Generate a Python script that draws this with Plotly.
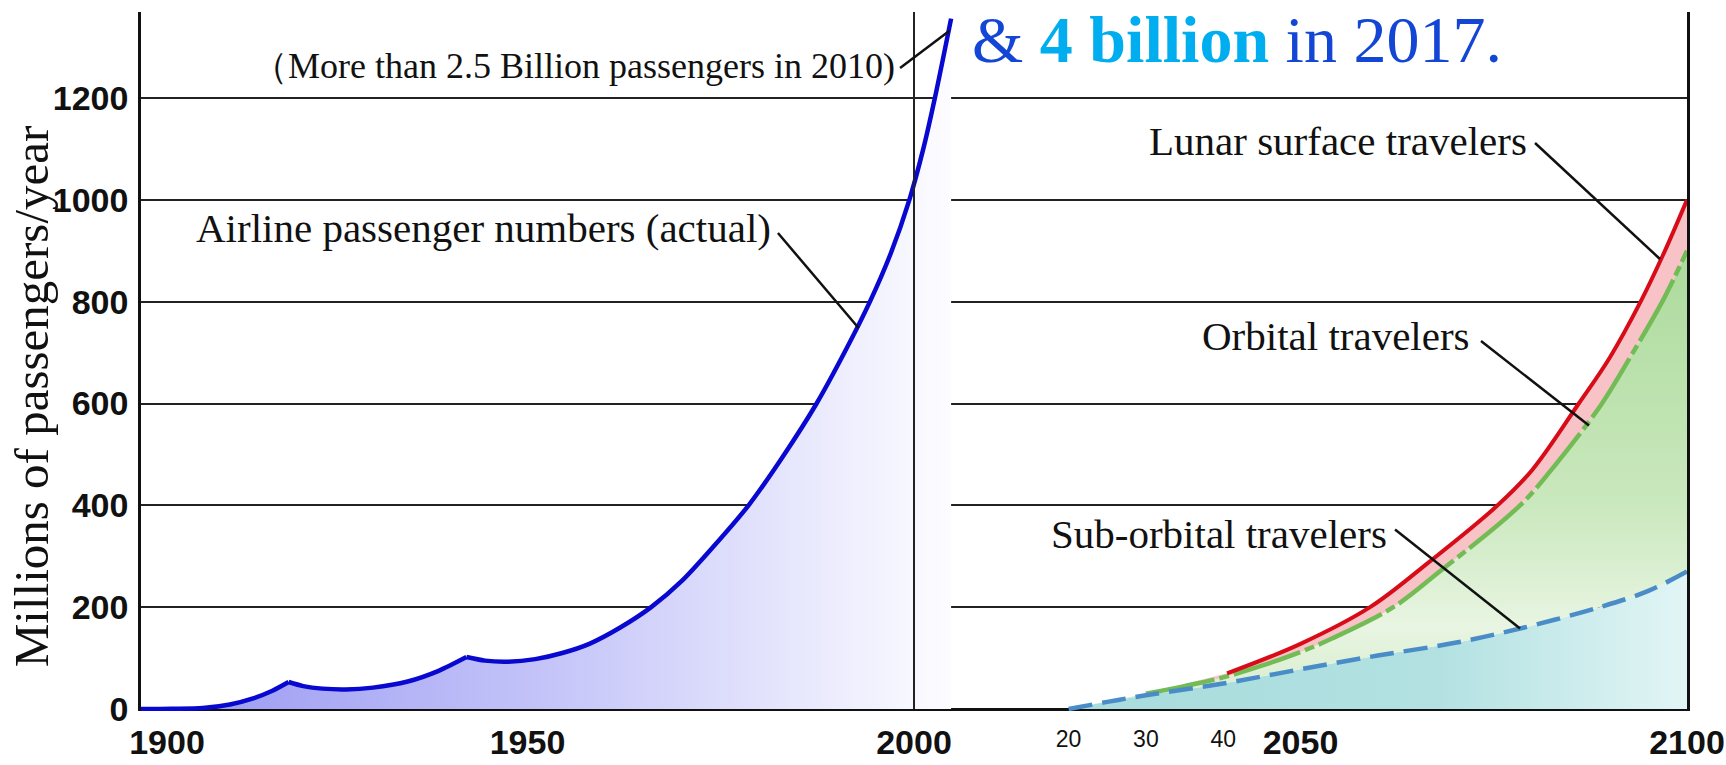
import plotly.graph_objects as go

# ---------------- data (millions of passengers / year) ----------------
# Airline passenger numbers (actual): three arcs separated by cusps
air_seg1_years = [1900, 1904, 1908, 1911.5, 1914.5, 1917, 1919.1]
air_seg1_vals = [0, 0.5, 2, 9, 21, 36, 53]
air_seg2_years = [1919.1, 1921, 1923.5, 1926.5, 1930, 1934.5, 1938.5, 1942.1]
air_seg2_vals = [53, 45, 40, 38.5, 42, 54, 75, 102]
air_seg3_years = [1942.1, 1944.5, 1947.5, 1951, 1954.5, 1958, 1962, 1966, 1970, 1974,
                  1978.6, 1983, 1987.4, 1991, 1994.3, 1997, 1999.4, 2001.2, 2002.7, 2004.8]
air_seg3_vals = [102, 95, 93, 98, 110, 128, 160, 200, 252, 318,
                 400, 495, 600, 700, 800, 895, 1000, 1100, 1200, 1356]

# Space travel projections
sub_years = [2020, 2025, 2030, 2040, 2050, 2060, 2070, 2078.4, 2088.7, 2095, 2100]
sub_vals = [0, 14, 27, 50, 78, 105, 130, 158, 200, 232, 270]
orb_years = [2030, 2035, 2040, 2045, 2050, 2054, 2062, 2068, 2078.4, 2083, 2089, 2093, 2096.8, 2100]
orb_vals = [30, 45, 62, 85, 112, 138, 200, 270, 400, 480, 600, 700, 800, 900]
lunar_years = [2040.5, 2050, 2059, 2066.5, 2075.5, 2080, 2086, 2090, 2094, 2097, 2100]
lunar_vals = [70, 128, 200, 287, 400, 470, 600, 690, 800, 895, 1000]

# Axis ticks
y_ticks = [0, 200, 400, 600, 800, 1000, 1200]
x_first_tick = [1900]
x_first_text = ["1900"]
x_major_ticks = [1950, 2000, 2050, 2100]
x_major_text = ["1950", "2000", "2050", "2100"]
x_minor_ticks = [2020, 2030, 2040]
x_minor_text = ["20", "30", "40"]

TICKFONT = "Liberation Sans, Arial, sans-serif"
SERIF = "Liberation Serif, Times New Roman, serif"

fig = go.Figure()

# single gradient fill under the whole airline curve (avoids seams at the cusps)
air_all_years = air_seg1_years + air_seg2_years[1:] + air_seg3_years[1:]
air_all_vals = air_seg1_vals + air_seg2_vals[1:] + air_seg3_vals[1:]
fig.add_trace(go.Scatter(x=air_all_years, y=air_all_vals, mode="lines", fill="tozeroy",
                         fillgradient=dict(type="horizontal", start=1900, stop=2005,
                                           colorscale=[[0, "#9696f2"], [0.5, "#c4c4f9"],
                                                       [1, "#fdfdff"]]),
                         line=dict(width=0), hoverinfo="skip"))

# fills for space projections
fig.add_trace(go.Scatter(x=sub_years, y=sub_vals, mode="lines", fill="tozeroy",
                         fillgradient=dict(type="horizontal", start=2020, stop=2100,
                                           colorscale=[[0, "#a8dcdc"], [0.6, "#b3e1e2"], [1, "#e2f5f5"]]),
                         line=dict(width=0, shape="spline"), hoverinfo="skip"))
fig.add_trace(go.Scatter(x=orb_years, y=orb_vals, mode="lines", fill="tonexty",
                         fillgradient=dict(type="vertical", start=0, stop=900,
                                           colorscale=[[0, "#d5ecca"], [0.18, "#e8f5e2"],
                                                       [0.45, "#cae8bd"], [1, "#acda9c"]]),
                         line=dict(width=0, shape="spline"), hoverinfo="skip"))
fig.add_trace(go.Scatter(x=lunar_years, y=lunar_vals, mode="lines", fill="tonexty",
                         fillcolor="#f7c3c6",
                         line=dict(width=0, shape="spline"), hoverinfo="skip"))

# airline lines (arcs with sharp cusps)
for xs, ys, xa in [(air_seg1_years, air_seg1_vals, "x3"), (air_seg2_years, air_seg2_vals, "x"),
                   (air_seg3_years, air_seg3_vals, "x")]:
    fig.add_trace(go.Scatter(x=xs, y=ys, mode="lines", xaxis=xa,
                             line=dict(color="#0808d0", width=4.5, shape="spline", smoothing=0.8),
                             hoverinfo="skip"))

# space lines
fig.add_trace(go.Scatter(x=orb_years, y=orb_vals, mode="lines",
                         line=dict(color="#72bb55", width=4.5, shape="spline",
                                   dash="70px,5px,10px,5px"), hoverinfo="skip"))
fig.add_trace(go.Scatter(x=lunar_years, y=lunar_vals, mode="lines",
                         line=dict(color="#d80c18", width=4, shape="spline"), hoverinfo="skip"))
fig.add_trace(go.Scatter(x=sub_years, y=sub_vals, mode="lines", xaxis="x2",
                         line=dict(color="#4a8cc8", width=4.5, shape="spline",
                                   dash="24px,10px"), hoverinfo="skip"))

# ---------------- annotations ----------------
txt = dict(font=dict(family=SERIF, size=41, color="#111111"), showarrow=False,
           xref="x", yref="y", xanchor="right", yanchor="middle")
fig.add_annotation(text="（More than 2.5 Billion passengers in 2010)", x=1997.8, y=1262,
                   **{**txt, "font": dict(family=SERIF, size=36, color="#111111")})
fig.add_annotation(text="Airline passenger numbers (actual)", x=1981.8, y=945, **txt)
fig.add_annotation(text="Lunar surface travelers", x=2079.6, y=1115.5, **txt)
fig.add_annotation(text="Orbital travelers", x=2072.2, y=732.6, **txt)
fig.add_annotation(text="Sub-orbital travelers", x=2061.5, y=343.7, **txt)
fig.add_annotation(
    text="<span style='color:#1446d6'>&amp; </span><b><span style='color:#00aeef'>4 billion</span></b>"
         "<span style='color:#1446d6'> in 2017.</span>",
    x=2007.3, y=1314, xref="x", yref="y", xanchor="left", yanchor="middle", showarrow=False,
    font=dict(family=SERIF, size=66, color="#1446d6"))
# y-axis title
fig.add_annotation(text="Millions of passengers/year", textangle=-90,
                   x=-0.071, xref="paper", y=614.7, yref="y",
                   xanchor="center", yanchor="middle", showarrow=False,
                   font=dict(family=SERIF, size=49, color="#111111"))

leaders = [
    (1998.2, 1259, 2004.55, 1331.6),
    (1982.4, 934.8, 1992.83, 748.3),
    (2080.34, 1111.6, 2096.5, 883.8),
    (2073.35, 722.7, 2087.32, 556.6),
    (2062.23, 352.5, 2078.4, 158.1),
]
shapes = [dict(type="line", xref="x", yref="y", x0=2000, x1=2000, y0=0, y1=1368.9,
               line=dict(color="#222222", width=2), layer="above")]
for x0, y0, x1, y1 in leaders:
    shapes.append(dict(type="line", xref="x", yref="y", x0=x0, y0=y0, x1=x1, y1=y1,
                       line=dict(color="#111111", width=2.5), layer="above"))

tick_common = dict(range=[1900, 2100], automargin=False, showgrid=False,
                   zeroline=False, showline=False, ticks="")
fig.update_layout(
    width=1726, height=765,
    margin=dict(l=141, r=39, t=12, b=54),
    paper_bgcolor="white", plot_bgcolor="white",
    showlegend=False,
    shapes=shapes,
    xaxis=dict(tickvals=x_major_ticks, ticktext=x_major_text,
               tickfont=dict(family=TICKFONT, size=34, color="#111111", weight="bold"),
               ticklabelstandoff=8, **tick_common),
    xaxis2=dict(overlaying="x", matches="x", anchor="y", side="bottom",
                tickvals=x_minor_ticks, ticktext=x_minor_text,
                tickfont=dict(family=TICKFONT, size=23, color="#111111"),
                ticklabelstandoff=12, **tick_common),
    xaxis3=dict(overlaying="x", matches="x", anchor="y", side="bottom",
                tickvals=x_first_tick, ticktext=x_first_text,
                tickfont=dict(family=TICKFONT, size=34, color="#111111", weight="bold"),
                ticklabelstandoff=8, ticklabelshift=26, **tick_common),
    yaxis=dict(range=[-3.93, 1368.9], tickvals=y_ticks, automargin=False,
               showgrid=True, gridcolor="#222222", gridwidth=2,
               zeroline=True, zerolinecolor="#111111", zerolinewidth=2.5,
               showline=True, linecolor="#111111", linewidth=2.5, mirror=True,
               ticks="", ticklabelstandoff=3,
               tickfont=dict(family=TICKFONT, size=34, color="#111111", weight="bold")),
)

fig.write_html("out.html", config={"displayModeBar": False},
               post_script="document.body.style.margin='0';")
